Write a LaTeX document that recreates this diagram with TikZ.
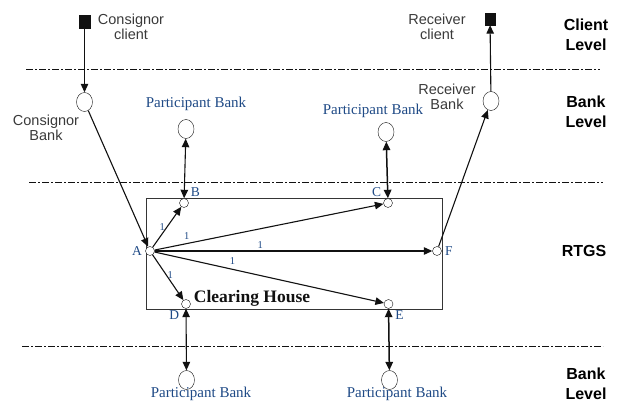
\documentclass[tikz,border=0pt]{standalone}
\usepackage{fontspec}
\setmainfont{Liberation Serif}
\setsansfont{Liberation Sans}
\usetikzlibrary{arrows.meta,shapes.geometric}
\definecolor{INK}{HTML}{111111}
\definecolor{GREYTXT}{HTML}{3A3A3A}
\definecolor{BLUETXT}{HTML}{1F4A86}

\begin{document}
\begin{tikzpicture}[
    x=1pt, y=-1pt,
    level/.style={draw=INK, dash pattern=on 7pt off 2pt on 2pt off 2pt, line width=0.9pt},
    client/.style={draw=INK, fill=INK, minimum width=10pt, minimum height=12pt, inner sep=0pt},
    bank/.style={draw=INK, ellipse, fill=white, minimum width=16pt, minimum height=19pt, inner sep=0pt},
    hub/.style={draw=INK, circle, fill=white, minimum size=9pt, inner sep=0pt, label distance=1pt},
    flow/.style={draw=INK, -{Triangle[length=8.5pt,width=7.5pt]}, line width=1.1pt},
    both/.style={draw=INK, {Triangle[length=8.5pt,width=7.5pt]}-{Triangle[length=8.5pt,width=7.5pt]}, line width=1.1pt},
    sanslab/.style={font=\sffamily\fontsize{14.5}{15.5}\selectfont, text=GREYTXT, align=center},
    pblab/.style={font=\fontsize{15}{16}\selectfont, text=BLUETXT},
    hublab/.style={font=\fontsize{13.5}{14}\selectfont, text=BLUETXT},
    wt/.style={font=\fontsize{10.5}{11}\selectfont, text=BLUETXT, inner sep=1.5pt},
    levlab/.style={font=\sffamily\bfseries\fontsize{16}{20}\selectfont, align=center},
  ]
  \useasboundingbox (0,0) rectangle (621,403);

  % level separators
  \draw[level, line width=0.7pt] (26,69) -- (600,69);
  \draw[level] (29,182) -- (603,182);
  \draw[level] (22,346) -- (603,346);

  % clearing house box
  \draw[INK!85, line width=0.8pt] (146,198) rectangle (442,309);
  \node[font=\bfseries\fontsize{17.5}{18}\selectfont, text=INK] (ch) at (252,298) {Clearing House};

  % clients and banks
  \node[client, minimum width=11pt, minimum height=13pt] (cc) at (84.5,21.5) {};
  \node[client] (rc) at (490,19) {};
  \node[bank] (cb) at (84.5,102) {};
  \node[bank] (rb) at (491,101) {};
  \node[bank] (pb1) at (186,129) {};
  \node[bank] (pb2) at (386,132) {};
  \node[bank] (pb3) at (186.5,380) {};
  \node[bank] (pb4) at (389.5,380) {};

  % RTGS points
  \node[hub, label={[hublab]left:A}] (A) at (150,251) {};
  \node[hub, label={[hublab]above right:B}] (B) at (184,203) {};
  \node[hub, label={[hublab]above left:C}] (C) at (388,203) {};
  \node[hub, label={[hublab]below left:D}] (D) at (186,304) {};
  \node[hub, label={[hublab]below right:E}] (E) at (388.5,304) {};
  \node[hub, label={[hublab]right:F}] (F) at (437,251) {};

  % texts
  \node[sanslab] (cct) at (131,27) {Consignor\\client};
  \node[sanslab] (cbt) at (46,128) {Consignor\\Bank};
  \node[sanslab] (rct) at (437,27) {Receiver\\client};
  \node[sanslab] (rbt) at (447,97) {Receiver\\Bank};
  \node[pblab] (pb1t) at (196,104) {Participant Bank};
  \node[pblab] (pb2t) at (373,111) {Participant Bank};
  \node[pblab] (pb3t) at (201,394) {Participant Bank};
  \node[pblab] (pb4t) at (397,394) {Participant Bank};

  % level names
  \node[levlab] (l1) at (586,35) {Client\\Level};
  \node[levlab] (l2) at (586,112) {Bank\\Level};
  \node[levlab] (l3) at (584,251) {RTGS};
  \node[levlab] (l4) at (586,384) {Bank\\Level};

  % payment path
  \draw[flow] (cc) -- (cb);
  \draw[flow] (cb) -- (A);
  \draw[flow] (F) -- (rb);
  \draw[flow] (rb) -- (rc);

  % settlement flows
  \draw[flow] (A) -- node[wt, pos=0.5, left] {1} (B);
  \draw[flow] (A) -- node[wt, pos=0.14, above=2pt] {1} (C);
  \draw[flow] (A) -- node[wt, pos=0.38, above] {1} (F);
  \draw[flow] (A) -- node[wt, pos=0.34, above=3pt] {1} (E);
  \draw[flow] (A) -- node[wt, pos=0.45, right=-1pt] {1} (D);

  % participant links
  \draw[both] (pb1) -- (B);
  \draw[both, line width=1.5pt] (pb2) -- (C);
  \draw[both] (D) -- (pb3);
  \draw[both, line width=1.5pt] (E) -- (pb4);

\end{tikzpicture}
\end{document}
